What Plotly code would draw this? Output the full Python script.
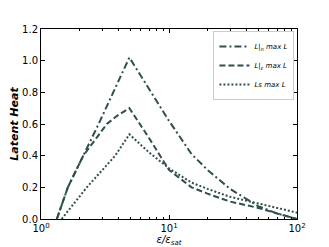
import plotly.graph_objects as go

x_n = [1.33, 1.62, 2.14, 2.82, 4.9, 7, 10, 15, 20, 30, 50, 70, 100]
L_n = [0.0, 0.2, 0.4, 0.6, 1.02, 0.82, 0.62, 0.41, 0.31, 0.19, 0.08, 0.035, 0.0]
x_eps = [1.33, 1.62, 2.14, 3.27, 3.9, 4.9, 7, 10, 15, 20, 30, 50, 70, 100]
L_eps = [0.0, 0.2, 0.4, 0.6, 0.65, 0.70, 0.51, 0.31, 0.20, 0.16, 0.11, 0.07, 0.035, 0.0]
x_ls = [1.45, 2.28, 3.8, 4.9, 7, 10, 15, 20, 30, 50, 70, 100]
Ls = [0.0, 0.2, 0.4, 0.535, 0.42, 0.32, 0.23, 0.19, 0.14, 0.10, 0.07, 0.04]

color = "#2f4f4f"
fig = go.Figure()
fig.add_trace(go.Scatter(x=x_n, y=L_n, mode="lines", name="<i>L|<sub>n</sub> max L</i>",
                         line=dict(color=color, width=2, dash="7px,3px,2px,3px")))
fig.add_trace(go.Scatter(x=x_eps, y=L_eps, mode="lines", name="<i>L|<sub>ε</sub> max L</i>",
                         line=dict(color=color, width=2, dash="6px,3px")))
fig.add_trace(go.Scatter(x=x_ls, y=Ls, mode="lines", name="<i>Ls max L</i>",
                         line=dict(color=color, width=2, dash="2px,2px")))

minor_vals = [m * d for d in (1, 10) for m in range(2, 10)]
fig.update_layout(
    width=321, height=239,
    margin=dict(l=33, r=32, t=21, b=28, autoexpand=False),
    paper_bgcolor="white", plot_bgcolor="white",
    font=dict(family="DejaVu Sans", size=10, color="black"),
    showlegend=True,
    legend=dict(x=0.99, y=0.99, xanchor="right", yanchor="top",
                bordercolor="#cccccc", borderwidth=1, bgcolor="white",
                font=dict(size=7), tracegroupgap=0, itemwidth=30),
    xaxis=dict(type="log", range=[0, 2], showgrid=False, zeroline=False, automargin=False,
               showline=True, linecolor="black", linewidth=1, mirror="allticks",
               ticks="inside", ticklen=4, tickcolor="black",
               tickvals=[1, 10, 100],
               ticktext=["10<sup>0</sup>", "10<sup>1</sup>", "10<sup>2</sup>"],
               tickfont=dict(size=10),
               minor=dict(tickvals=minor_vals, ticks="inside", ticklen=2, tickcolor="black", showgrid=False),
               title=dict(text="<i>ε/ε<sub>sat</sub></i>", font=dict(size=10), standoff=0)),
    yaxis=dict(range=[0, 1.2], showgrid=False, zeroline=False, automargin=False,
               showline=True, linecolor="black", linewidth=1, mirror="allticks",
               ticks="inside", ticklen=4, tickcolor="black",
               tickvals=[0, 0.2, 0.4, 0.6, 0.8, 1.0, 1.2],
               ticktext=["0.0", "0.2", "0.4", "0.6", "0.8", "1.0", "1.2"],
               tickfont=dict(size=10),
               title=dict(text="<b><i>Latent Heat</i></b>", font=dict(size=11), standoff=4)),
)
fig.write_html("out.html")
